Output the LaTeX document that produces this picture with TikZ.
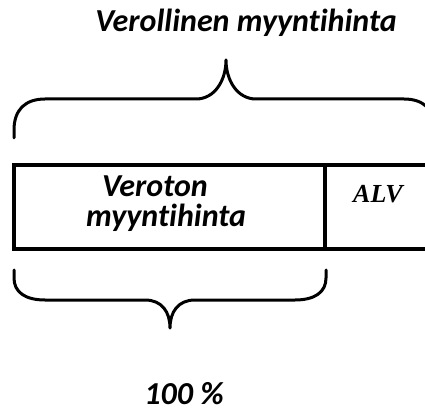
\documentclass[tikz,border=0pt]{standalone}
\usepackage{fontspec}
\setmainfont{Carlito}[Ligatures=CommonOff]
\newfontfamily\timesf{Liberation Serif}
\begin{document}
\begin{tikzpicture}[x=1pt,y=-1pt,
  lbl/.style={font=\fontsize{32}{36}\selectfont\bfseries\itshape, inner sep=0pt, anchor=base, text depth=0pt},
  bracepath/.style={line width=3pt, line cap=round, line join=round},
  boxline/.style={line width=4.5pt}]
\useasboundingbox (0,0) rectangle (425,411);
\clip (0,0) rectangle (425,411);
% title
\node[lbl] (title) at (246,32) {Verollinen myyntihinta};
% top brace
\draw[bracepath] (14,138) -- (14,130) .. controls (14,110) and (25,99) .. (45,99)
  -- (196,99) .. controls (215,99) and (226,80) .. (226,60)
  .. controls (226,80) and (237,99) .. (256,99) -- (404,99)
  .. controls (424,99) and (435,110) .. (435,130) -- (435,138);
% box
\coordinate (bl) at (14,165);
\coordinate (br) at (440,249);
\draw[boxline] (bl) rectangle (br);
\coordinate (dtop) at (325,165);
\coordinate (dbot) at (325,249);
\draw[line width=3.5pt] (dtop) -- (dbot);
\node[lbl] (veroton) at (155,197) {Veroton};
\node[lbl] (myynti) at (166,227) {myyntihinta};
\node[font=\timesf\fontsize{26}{30}\selectfont\bfseries\itshape, inner sep=0pt, anchor=base] (alv) at (378,203) {ALV};
% bottom brace
\draw[bracepath] (14,270) -- (14,278) .. controls (14,292) and (25,300) .. (45,300)
  -- (145,300) .. controls (162,300) and (170,312) .. (170,328)
  .. controls (170,312) and (178,300) .. (195,300) -- (295,300)
  .. controls (315,300) and (326,292) .. (326,278) -- (326,270);
\node[lbl] (pct) at (184,404) {100 \%};
\end{tikzpicture}
\end{document}
